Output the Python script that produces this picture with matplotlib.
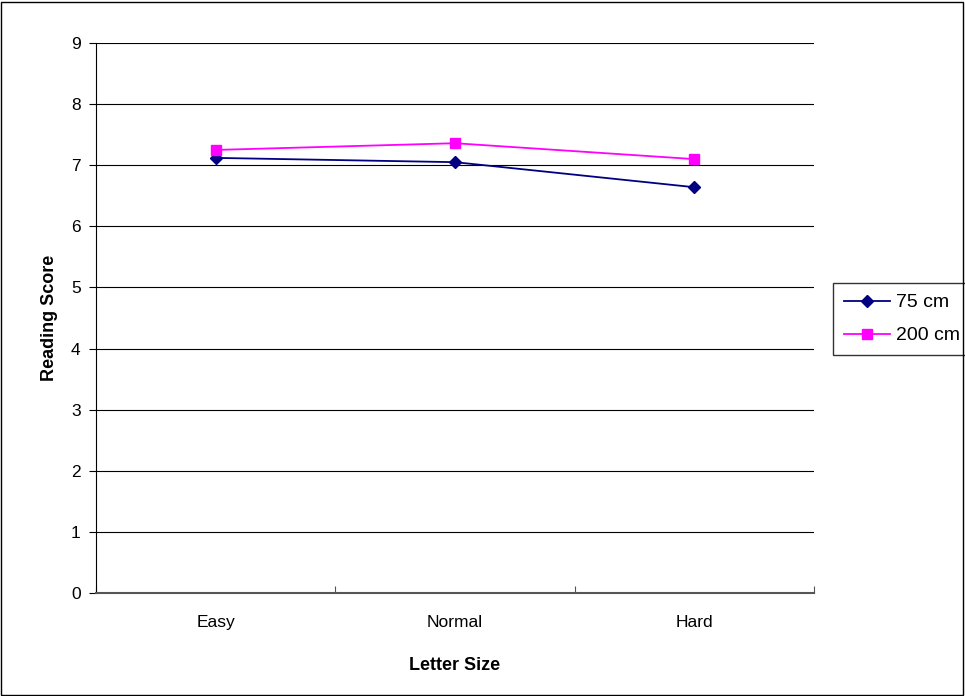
import matplotlib
matplotlib.use("Agg")
import matplotlib.pyplot as plt
from matplotlib.patches import Rectangle

plt.rcParams['font.family'] = ['Liberation Sans', 'DejaVu Sans']

categories = ["Easy", "Normal", "Hard"]
score_75 = [7.12, 7.05, 6.64]
score_200 = [7.25, 7.36, 7.10]

W, H = 965, 696
fig = plt.figure(figsize=(W / 100, H / 100), dpi=100)
ax = fig.add_axes([96 / W, 1 - 593 / H, (814 - 96) / W, (593 - 43) / H])

x = range(len(categories))
ax.plot(x, score_75, color="#000080", marker="D", markersize=6.5, lw=1.3, label="75 cm")
ax.plot(x, score_200, color="#ff00ff", marker="s", markersize=7, lw=1.3, label="200 cm")

ax.set_xlim(-0.5, 2.5)
ax.set_ylim(0, 9)
ax.set_yticks(range(10))
ax.set_xticks([-0.5, 0.5, 1.5, 2.5])
ax.set_xticklabels([])
ax.set_xticks(list(x), minor=True)
ax.set_xticklabels(categories, minor=True)
ax.tick_params(axis="x", which="minor", length=0, pad=16, labelsize=12.5)
ax.tick_params(axis="x", which="major", length=5, direction="in", color="#555555")
ax.tick_params(axis="y", length=5, direction="out", labelsize=12.5, pad=6)
ax.grid(axis="y", color="black", lw=0.8)
ax.set_axisbelow(True)
for s in ["top", "right"]:
    ax.spines[s].set_visible(False)
ax.spines["left"].set_color("black")
ax.spines["bottom"].set_color("#555555")
ax.spines["bottom"].set_linewidth(1.5)

ax.set_ylabel("Reading Score", fontsize=13, fontweight="bold", labelpad=9)
ax.set_xlabel("Letter Size", fontsize=13, fontweight="bold", labelpad=19)

leg = ax.legend(loc="upper left", bbox_to_anchor=(833 / W, 1 - 283 / H),
                bbox_transform=fig.transFigure, borderaxespad=0, fontsize=14,
                frameon=True, fancybox=False, edgecolor="black", borderpad=0.55,
                handlelength=2.4, handletextpad=0.3, labelspacing=0.8)
leg.get_frame().set_linewidth(1.0)

fig.patches.append(Rectangle((1 / W, 1 / H), (W - 3) / W, (H - 3) / H,
                             transform=fig.transFigure, fill=False,
                             edgecolor="black", lw=1))

fig.savefig("out.png", dpi=100)
